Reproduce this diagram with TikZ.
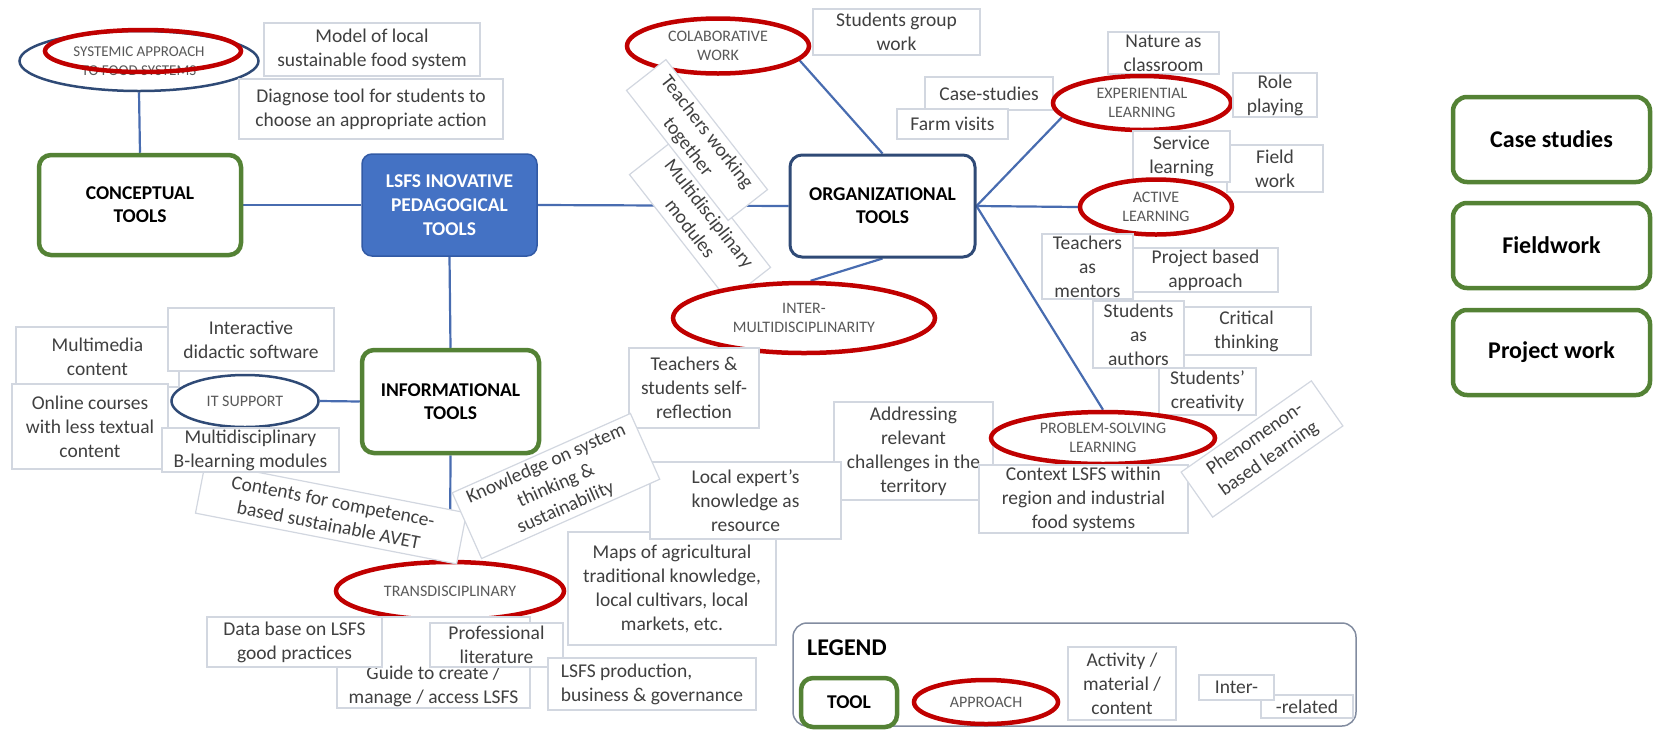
\documentclass[tikz,border=0pt]{standalone}
\usepackage{fontspec}
\setmainfont{Carlito}
\usetikzlibrary{shapes.geometric,backgrounds}
\definecolor{toolgreen}{RGB}{84,130,53}
\definecolor{appred}{RGB}{192,0,0}
\definecolor{linkblue}{RGB}{72,108,176}
\definecolor{navy}{RGB}{47,74,118}
\definecolor{boxgray}{RGB}{210,215,224}
\definecolor{txtgray}{RGB}{64,64,64}
\definecolor{apptxt}{RGB}{89,89,89}
\definecolor{lsfsblue}{RGB}{68,114,196}
\definecolor{lsfsedge}{RGB}{50,90,165}
\definecolor{legedge}{RGB}{130,140,160}
\begin{document}
\begin{tikzpicture}[x=1pt,y=-1pt,
  wh/.style 2 args={minimum width=#1, minimum height=#2},
  act/.style={draw=boxgray, line width=1.2pt, fill=white, text=txtgray, align=center, inner sep=0pt, font=\fontsize{19.5}{24}\selectfont},
  plaintext/.style={text=txtgray, align=center, inner sep=0pt, font=\fontsize{19.5}{24}\selectfont},
  appr/.style={ellipse, draw=appred, line width=4.5pt, fill=white, text=apptxt, align=center, inner sep=0pt, font=\fontsize{16}{19}\selectfont},
  bluell/.style={ellipse, draw=navy, line width=2.5pt, fill=white, text=apptxt, align=center, inner sep=0pt, font=\fontsize{16}{19}\selectfont},
  tool/.style={draw=toolgreen, line width=4.5pt, rounded corners=12pt, fill=white, text=black, align=center, inner sep=0pt, font=\bfseries\fontsize{19.5}{23}\selectfont},
  sidetool/.style={draw=toolgreen, line width=4.5pt, rounded corners=14pt, fill=white, text=black, align=center, inner sep=0pt, font=\bfseries\fontsize{24}{28}\selectfont},
  orgtool/.style={draw=navy, line width=3pt, rounded corners=12pt, fill=white, text=black, align=center, inner sep=0pt, font=\bfseries\fontsize{19.5}{23}\selectfont},
  root/.style={draw=lsfsedge, line width=1.5pt, rounded corners=10pt, fill=lsfsblue, text=white, align=center, inner sep=0pt, font=\bfseries\fontsize{19.5}{24}\selectfont},
  link/.style={draw=linkblue, line width=2.2pt}
]
\useasboundingbox (0,0) rectangle (1654,729);

% ---------- tools ----------
\node[root, wh={175}{102}] (lsfs) at (449.5,205) {LSFS INOVATIVE\\PEDAGOGICAL\\TOOLS};
\node[tool, wh={202}{100}] (concept) at (140,205) {CONCEPTUAL\\TOOLS};
\node[tool, wh={177}{103}] (info) at (450.5,401.5) {INFORMATIONAL\\TOOLS};
\node[orgtool, wh={185}{102}] (org) at (882.5,206) {ORGANIZATIONAL\\TOOLS};

% ---------- conceptual side ----------
\node[bluell, wh={239}{60}, font=\fontsize{15}{19}\selectfont] (systemic) at (139,61) {SYSTEMIC APPROACH\\TO FOOD SYSTEMS};
\node[ellipse, draw=appred, line width=4.5pt, wh={196}{42}] (sysred) at (143,51) {};
\node[act, wh={216}{53}] (model) at (372,49.5) {Model of local\\sustainable food system};
\node[act, wh={264}{60}] (diag) at (371,109) {Diagnose tool for students to\\choose an appropriate action};

% ---------- organizational side ----------
\node[appr, wh={182}{55}] (collab) at (718,46) {COLABORATIVE\\WORK};
\node[act, wh={167}{46}] (sgw) at (896.5,32) {Students group\\work};
\node[act, wh={128}{33}] (casestud) at (989,93.5) {Case-studies};
\node[act, wh={111}{30}] (farm) at (952.5,124) {Farm visits};
\node[act, wh={160}{54}, rotate=-52] (mmod) at (700,221) {Multidisciplinary\\modules};
\node[act, wh={165}{50}, rotate=-52] (twork) at (697,140) {Teachers working\\together};
\node[act, wh={111}{42}] (nature) at (1163.5,53) {Nature as\\classroom};
\node[appr, wh={178}{54}] (exper) at (1142,103) {EXPERIENTIAL\\LEARNING};
\node[act, wh={84}{44}] (role) at (1275,95) {Role\\playing};
\node[act, wh={96}{47}] (field) at (1275,168.5) {Field\\work};
\node[act, wh={97}{51}] (service) at (1181.5,156.5) {Service\\learning};
\node[appr, wh={152}{55}] (active) at (1156,207) {ACTIVE\\LEARNING};
\node[act, wh={91}{65}] (tmentor) at (1087.5,266.5) {Teachers\\as\\mentors};
\node[act, wh={145}{44}] (project) at (1205.5,270) {Project based\\approach};
\node[act, wh={129}{48}] (critical) at (1246.5,331) {Critical\\thinking};
\node[act, wh={91}{67}] (sauthor) at (1138.5,334.5) {Students\\as\\authors};
\node[act, wh={97}{47}] (creat) at (1207.5,391.5) {Students’\\creativity};
\node[appr, wh={262}{70}] (inter) at (804,318) {INTER-\\MULTIDISCIPLINARITY};
\node[act, wh={130}{80}] (selfref) at (694,388) {Teachers \&\\students self-\\reflection};
\node[act, wh={159}{98}] (address) at (913.5,451) {Addressing\\relevant\\challenges in the\\territory};
\node[appr, wh={224}{52}] (problem) at (1103,438) {PROBLEM-SOLVING\\LEARNING};
\node[act, wh={209}{68}] (context) at (1083.5,499) {Context LSFS within\\region and industrial\\food systems};
\node[act, wh={159}{55}, rotate=35] (phen) at (1262,449) {Phenomenon-\\based learning};
\node[act, wh={208}{113}] (maps) at (672,588.5) {Maps of agricultural\\traditional knowledge,\\local cultivars, local\\markets, etc.};
\node[act, wh={191}{77}] (local) at (745.5,500.5) {Local expert’s\\knowledge as\\resource};

% ---------- informational side ----------
\node[act, wh={163}{60}] (multimedia) at (97.5,357) {Multimedia\\content};
\node[act, wh={166}{63}] (interactive) at (251,339.5) {Interactive\\didactic software};
\node[act, wh={156}{85}] (online) at (90,426.5) {Online courses\\with less textual\\content};
\node[bluell, wh={147}{52}] (itsup) at (245,401) {IT SUPPORT};
\node[appr, wh={228}{58}] (trans) at (450,591) {TRANSDISCIPLINARY};
\node[act, wh={266}{52}, rotate=-11] (contents) at (331,513) {Contents for competence-\\based sustainable AVET};
\node[act, wh={177}{44}] (bmod) at (250.5,450) {Multidisciplinary\\B-learning modules};
\node[act, wh={195}{72}, rotate=24] (knowledge) at (556,486) {Knowledge on system\\thinking \&\\sustainability};
\node[act, wh={193}{91}] (guide) at (433.5,662.5) {};
\node[plaintext] (guidetxt) at (433.5,686) {Guide to create /\\manage / access LSFS};
\node[act, wh={175}{50}] (database) at (294.5,642) {Data base on LSFS\\good practices};
\node[act, wh={133}{44}] (proflit) at (496.5,645) {Professional\\literature};
\node[act, wh={208}{52}, align=left] (lsfsprod) at (652,684) {LSFS production,\\business \& governance};

% ---------- side boxes ----------
\node[sidetool, wh={197}{85}] (casest) at (1551.5,139.5) {Case studies};
\node[sidetool, wh={197}{85}] (fieldw) at (1551.5,245.5) {Fieldwork};
\node[sidetool, wh={197}{85}] (projw) at (1551.5,352.5) {Project work};

% ---------- legend ----------
\node[draw=legedge, line width=1.5pt, rounded corners=14pt, wh={563}{103}, inner sep=0pt] (legend) at (1074.5,674.5) {};
\node[anchor=west, inner sep=0pt, font=\bfseries\fontsize{24}{28}\selectfont] (legtitle) at (807,648) {LEGEND};
\node[tool, wh={96}{49}] (legtool) at (849,702.5) {TOOL};
\node[appr, wh={144}{44}] (legappr) at (986,702) {APPROACH};
\node[act, wh={108}{73}] (legact) at (1122,683.5) {Activity /\\material /\\content};
\node[act, wh={92}{23}] (legrel) at (1307,706.5) {-related};
\node[act, wh={75}{25}] (leginter) at (1236.5,687.5) {Inter-};

% ---------- connectors ----------
\begin{scope}[on background layer]
\draw[link] (systemic.south) -- (concept.north);
\draw[link] (concept.east) -- (lsfs.west);
\draw[link] (lsfs.east) -- (org.west);
\draw[link] (lsfs.south) -- (info.north);
\draw[link] (itsup.east) -- (info.west);
\draw[link] (info.south) -- (trans.north);
\draw[link] (collab.-10) -- (org.north);
\draw[link] (org.east) -- (exper.190);
\draw[link] (org.east) -- (active.west);
\draw[link] (org.east) -- (problem.north);
\draw[link] (org.south) -- (inter.80);
\end{scope}
\end{tikzpicture}
\end{document}
